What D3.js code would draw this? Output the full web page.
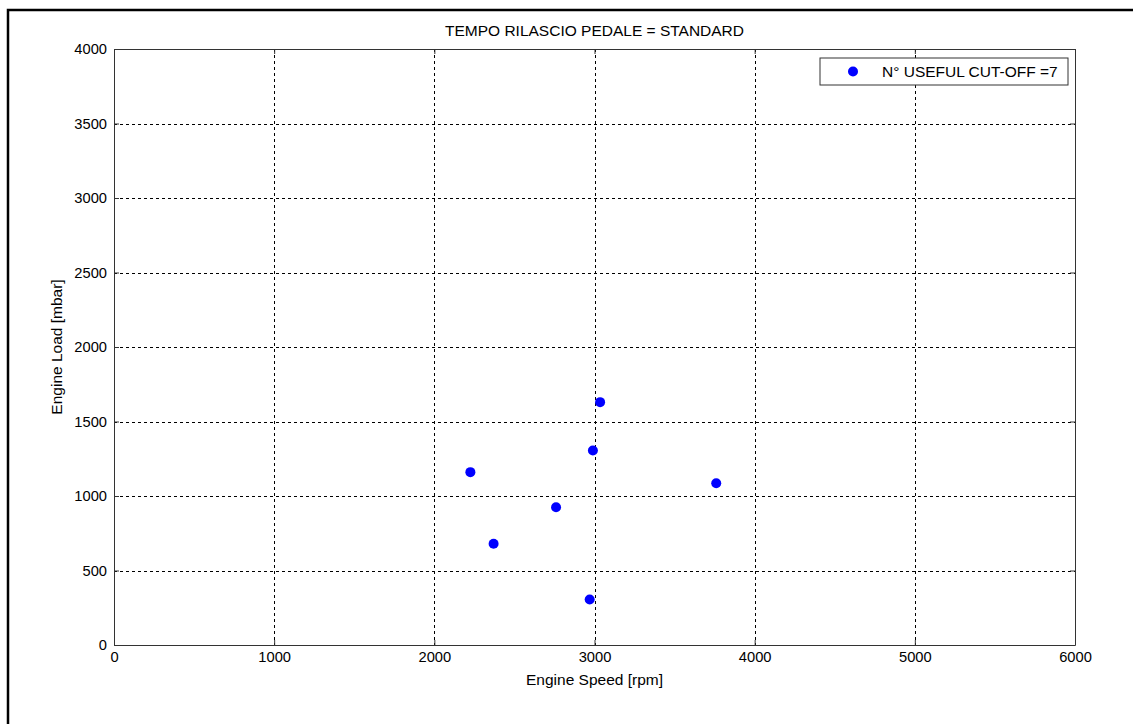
<!DOCTYPE html>
<html lang="en">
<head>
<meta charset="UTF-8">
<title>TEMPO RILASCIO PEDALE = STANDARD</title>
<script src="https://d3js.org/d3.v7.min.js"></script>
<style>
    body { margin: 0; background: #fff; }
    svg text { font-family: "Liberation Sans", Arial, sans-serif; fill: #000; }
    .tick-label { font-size: 14.7px; }
</style>
</head>
<body>
<svg width="1133" height="724"></svg>
<script>
    // data
    const speed = [3035, 2990, 2225, 3760, 2760, 2370, 2970];   // rpm
    const load  = [1630, 1305, 1160, 1085, 925, 680, 305];      // mbar
    const xTicks = [0, 1000, 2000, 3000, 4000, 5000, 6000];
    const yTicks = [0, 500, 1000, 1500, 2000, 2500, 3000, 3500, 4000];
    const legendLabel = "N° USEFUL CUT-OFF =" + speed.length;

    const plot = { left: 114, top: 49, right: 1075, bottom: 645 };
    const width = plot.right - plot.left;
    const height = plot.bottom - plot.top;

    const svg = d3.select("svg");

    // figure frame (cropped on right/bottom)
    svg.append("rect")
        .attr("x", 8).attr("y", 10)
        .attr("width", 1140).attr("height", 730)
        .attr("fill", "none").attr("stroke", "#000").attr("stroke-width", 2.5);

    const x = d3.scaleLinear().domain([0, 6000]).range([0, width]);
    const y = d3.scaleLinear().domain([0, 4000]).range([height, 0]);

    const g = svg.append("g").attr("transform", `translate(${plot.left},${plot.top})`);

    // grid
    g.append("g").selectAll("line").data(xTicks.slice(1, -1)).join("line")
        .attr("x1", d => Math.round(x(d)) + 0.5).attr("x2", d => Math.round(x(d)) + 0.5)
        .attr("y1", 0).attr("y2", height)
        .attr("stroke", "#000").attr("stroke-dasharray", "3,3");
    g.append("g").selectAll("line").data(yTicks.slice(1, -1)).join("line")
        .attr("y1", d => Math.round(y(d)) + 0.5).attr("y2", d => Math.round(y(d)) + 0.5)
        .attr("x1", 0).attr("x2", width)
        .attr("stroke", "#000").attr("stroke-dasharray", "3,3");

    // axes (ticks point inward, matlab style)
    const fmt = d3.format("d");
    const axB = g.append("g").attr("transform", `translate(0,${height})`)
        .call(d3.axisBottom(x).tickValues(xTicks).tickFormat(fmt).tickSize(-5).tickPadding(7).tickSizeOuter(0));
    const axT = g.append("g")
        .call(d3.axisTop(x).tickValues(xTicks).tickSize(-5).tickFormat("").tickSizeOuter(0));
    const axL = g.append("g")
        .call(d3.axisLeft(y).tickValues(yTicks).tickFormat(fmt).tickSize(-5).tickPadding(7).tickSizeOuter(0));
    const axR = g.append("g").attr("transform", `translate(${width},0)`)
        .call(d3.axisRight(y).tickValues(yTicks).tickSize(-5).tickFormat("").tickSizeOuter(0));
    [axB, axT, axL, axR].forEach(a => {
        a.attr("font-family", null).attr("font-size", null);
        a.select(".domain").attr("stroke", "#333");
        a.selectAll(".tick line").attr("stroke", "#333");
        a.selectAll(".tick text").attr("class", "tick-label").attr("fill", "#000");
    });

    // points
    g.append("g").selectAll("circle").data(speed).join("circle")
        .attr("cx", (d, i) => x(d))
        .attr("cy", (d, i) => y(load[i]))
        .attr("r", 5)
        .attr("fill", "#0000ff");

    // title and labels
    svg.append("text").attr("x", (plot.left + plot.right) / 2).attr("y", 36)
        .attr("text-anchor", "middle").attr("font-size", 15.5).text("TEMPO RILASCIO PEDALE = STANDARD");
    svg.append("text").attr("x", (plot.left + plot.right) / 2).attr("y", 685)
        .attr("text-anchor", "middle").attr("font-size", 15.5).text("Engine Speed [rpm]");
    svg.append("text").attr("transform", `translate(62,${(plot.top + plot.bottom) / 2}) rotate(-90)`)
        .attr("text-anchor", "middle").attr("font-size", 15.5).text("Engine Load [mbar]");

    // legend
    const leg = svg.append("g").attr("transform", "translate(820,58)");
    leg.append("rect").attr("width", 248).attr("height", 27)
        .attr("fill", "#fff").attr("stroke", "#333");
    leg.append("circle").attr("cx", 33).attr("cy", 13.5).attr("r", 5).attr("fill", "#0000ff");
    leg.append("text").attr("x", 62).attr("y", 19).attr("font-size", 15.5).text(legendLabel);
</script>
</body>
</html>
